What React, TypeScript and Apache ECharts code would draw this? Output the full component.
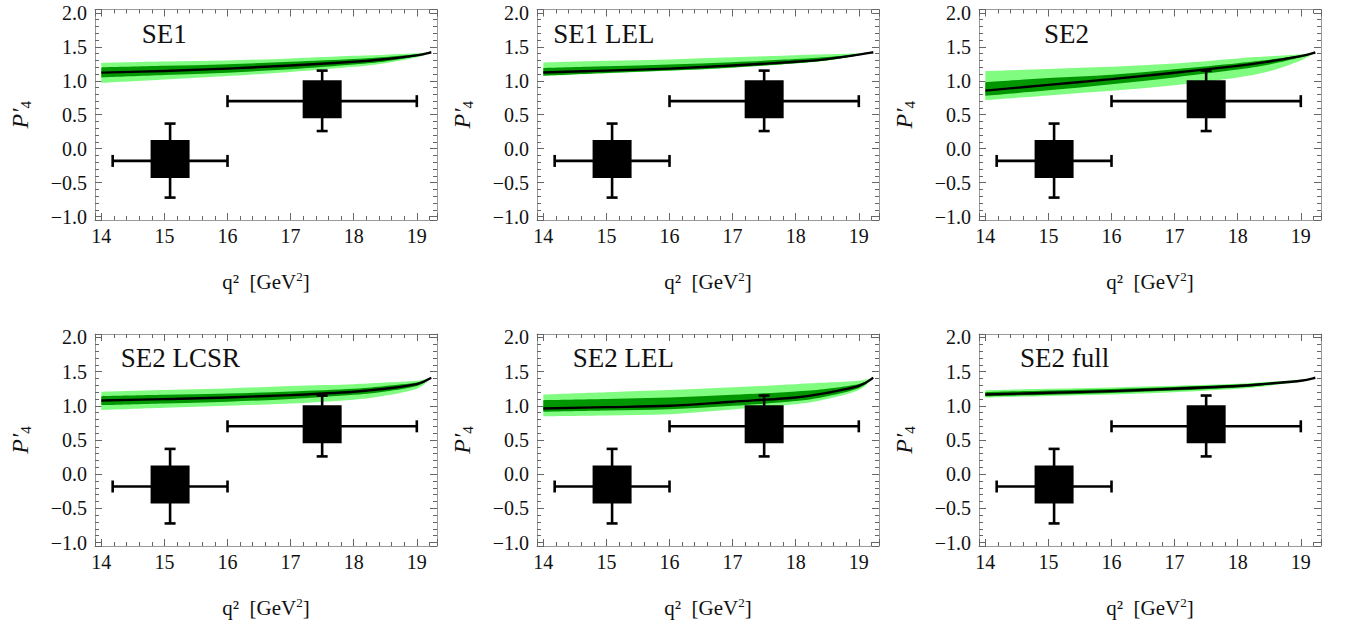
import React, { useEffect, useRef } from 'react';
import * as echarts from 'echarts';

// q^2 sample points of the theory curves
const Q = [14, 15, 16, 17, 18, 18.5, 19, 19.23];

// SE1
const SE1_C = [1.12, 1.145, 1.18, 1.225, 1.28, 1.32, 1.375, 1.42];
const SE1_LH = [1.265, 1.285, 1.3, 1.33, 1.368, 1.385, 1.405, 1.42];
const SE1_LL = [0.97, 1.02, 1.07, 1.13, 1.206, 1.26, 1.345, 1.42];
const SE1_DH = [1.197, 1.22, 1.245, 1.28, 1.32, 1.35, 1.39, 1.42];
const SE1_DL = [1.05, 1.085, 1.12, 1.17, 1.24, 1.285, 1.36, 1.42];
// SE1 LEL
const SE1LEL_C = [1.123, 1.15, 1.18, 1.225, 1.28, 1.32, 1.385, 1.42];
const SE1LEL_LH = [1.27, 1.295, 1.314, 1.345, 1.377, 1.39, 1.405, 1.42];
const SE1LEL_LL = [1.07, 1.11, 1.147, 1.19, 1.255, 1.3, 1.375, 1.42];
const SE1LEL_DH = [1.19, 1.215, 1.24, 1.275, 1.32, 1.35, 1.395, 1.42];
const SE1LEL_DL = [1.075, 1.115, 1.15, 1.195, 1.258, 1.302, 1.377, 1.42];
// SE2
const SE2_C = [0.855, 0.94, 1.025, 1.118, 1.22, 1.285, 1.363, 1.417];
const SE2_LH = [1.143, 1.175, 1.206, 1.255, 1.33, 1.36, 1.39, 1.417];
const SE2_LL = [0.716, 0.785, 0.853, 0.936, 1.05, 1.14, 1.3, 1.417];
const SE2_DH = [0.98, 1.04, 1.09, 1.17, 1.26, 1.31, 1.375, 1.417];
const SE2_DL = [0.78, 0.86, 0.95, 1.05, 1.165, 1.24, 1.345, 1.417];
// SE2 LCSR
const SE2LCSR_C = [1.078, 1.098, 1.122, 1.156, 1.205, 1.25, 1.317, 1.41];
const SE2LCSR_LH = [1.205, 1.23, 1.254, 1.29, 1.317, 1.34, 1.366, 1.41];
const SE2LCSR_LL = [0.937, 0.97, 1.0, 1.034, 1.09, 1.15, 1.25, 1.41];
const SE2LCSR_DH = [1.14, 1.16, 1.18, 1.21, 1.25, 1.29, 1.34, 1.41];
const SE2LCSR_DL = [1.01, 1.035, 1.06, 1.1, 1.16, 1.21, 1.29, 1.41];
// SE2 LEL
const SE2LEL_C = [0.961, 0.98, 1.0, 1.06, 1.122, 1.19, 1.29, 1.41];
const SE2LEL_LH = [1.166, 1.2, 1.23, 1.27, 1.317, 1.34, 1.366, 1.41];
const SE2LEL_LL = [0.849, 0.86, 0.878, 0.946, 1.024, 1.1, 1.23, 1.41];
const SE2LEL_DH = [1.083, 1.1, 1.12, 1.16, 1.21, 1.25, 1.32, 1.41];
const SE2LEL_DL = [0.912, 0.93, 0.95, 1.0, 1.07, 1.14, 1.26, 1.41];
// SE2 full
const SE2FULL_C = [1.166, 1.19, 1.215, 1.25, 1.29, 1.325, 1.366, 1.41];
const SE2FULL_LH = [1.228, 1.248, 1.268, 1.292, 1.322, 1.35, 1.38, 1.41];
const SE2FULL_LL = [1.12, 1.142, 1.165, 1.2, 1.25, 1.295, 1.35, 1.41];
const SE2FULL_DH = [1.2, 1.222, 1.245, 1.275, 1.31, 1.34, 1.374, 1.41];
const SE2FULL_DL = [1.14, 1.163, 1.188, 1.222, 1.268, 1.308, 1.358, 1.41];

// experimental bins
const EXP_Q = [15.09, 17.5];
const EXP_QLO = [14.18, 16];
const EXP_QHI = [16, 19];
const EXP_P = [-0.18, 0.7];
const EXP_PLO = [-0.72, 0.26];
const EXP_PHI = [0.37, 1.15];

const TITLES = ['SE1', 'SE1 LEL', 'SE2', 'SE2 LCSR', 'SE2 LEL', 'SE2 full'];

const PANELS = [
  { c: SE1_C, lh: SE1_LH, ll: SE1_LL, dh: SE1_DH, dl: SE1_DL },
  { c: SE1LEL_C, lh: SE1LEL_LH, ll: SE1LEL_LL, dh: SE1LEL_DH, dl: SE1LEL_DL },
  { c: SE2_C, lh: SE2_LH, ll: SE2_LL, dh: SE2_DH, dl: SE2_DL },
  { c: SE2LCSR_C, lh: SE2LCSR_LH, ll: SE2LCSR_LL, dh: SE2LCSR_DH, dl: SE2LCSR_DL },
  { c: SE2LEL_C, lh: SE2LEL_LH, ll: SE2LEL_LL, dh: SE2LEL_DH, dl: SE2LEL_DL },
  { c: SE2FULL_C, lh: SE2FULL_LH, ll: SE2FULL_LL, dh: SE2FULL_DH, dl: SE2FULL_DL },
];

const COL_LEFT = [95, 537, 979];
const GRID_W = 342;
const ROW_TOP = [9.5, 334];
const ROW_H = [210.5, 212];
const TITLE_X = [141.7, 553.3, 1044, 120.7, 572.7, 1020];

const SERIF = 'serif';
const LIGHT = '#80fc80';
const DARK = '#009600';
const FRAME = '#9a9a9a';
const TICK = '#666666';
const INK = '#111111';

const fmtY = (v: number) => {
  if (Math.abs(v * 2 - Math.round(v * 2)) > 1e-6) return '';
  return v.toFixed(1).replace('-', '\u2212');
};
const fmtX = (v: number) => {
  if (Math.abs(v - Math.round(v)) > 1e-6) return '';
  return String(Math.round(v));
};

// Catmull-Rom smoothing of already-projected pixel points into cubic Bezier segments
const curveSegs = (pts: number[][]) => {
  let d = '';
  const n = pts.length;
  for (let i = 0; i < n - 1; i++) {
    const p0 = pts[Math.max(i - 1, 0)];
    const p1 = pts[i];
    const p2 = pts[i + 1];
    const p3 = pts[Math.min(i + 2, n - 1)];
    const c1x = p1[0] + (p2[0] - p0[0]) / 6;
    const c1y = p1[1] + (p2[1] - p0[1]) / 6;
    const c2x = p2[0] - (p3[0] - p1[0]) / 6;
    const c2y = p2[1] - (p3[1] - p1[1]) / 6;
    d += ` C ${c1x} ${c1y} ${c2x} ${c2y} ${p2[0]} ${p2[1]}`;
  }
  return d;
};

export default function App() {
  const ref = useRef<HTMLDivElement>(null);
  useEffect(() => {
    const chart = echarts.init(ref.current!, null, { renderer: 'svg' });
    const grids: any[] = [];
    const xAxes: any[] = [];
    const yAxes: any[] = [];
    const series: any[] = [];
    const graphics: any[] = [];

    PANELS.forEach((p, i) => {
      const col = i % 3;
      const row = Math.floor(i / 3);
      grids.push({ left: COL_LEFT[col], top: ROW_TOP[row], width: GRID_W, height: ROW_H[row] });
      const common = {
        gridIndex: i,
        axisLine: { show: true, onZero: false, lineStyle: { color: FRAME, width: 1 } },
        axisTick: { show: true, inside: true, length: 7, lineStyle: { color: TICK, width: 1 } },
        minorTick: { show: true, splitNumber: 5, length: 4, lineStyle: { color: TICK, width: 1 } },
        splitLine: { show: false },
      };
      xAxes.push({
        ...common,
        type: 'value',
        position: 'bottom',
        min: 13.9,
        max: 19.32,
        axisLabel: {
          formatter: fmtX,
          fontFamily: SERIF,
          fontSize: 20,
          color: INK,
          margin: 6,
        },
        name: '{a|q\u00b2  [GeV}{b|2}{a|]}',
        nameLocation: 'middle',
        nameGap: 50,
        nameTextStyle: {
          rich: {
            a: { fontFamily: SERIF, fontSize: 21, color: INK, lineHeight: 24 },
            b: { fontFamily: SERIF, fontSize: 13, color: INK, verticalAlign: 'top', lineHeight: 24 },
          },
        },
      });
      xAxes.push({
        ...common,
        type: 'value',
        position: 'top',
        min: 13.9,
        max: 19.32,
        axisLabel: { show: false },
      });
      yAxes.push({
        ...common,
        type: 'value',
        position: 'left',
        min: -1.05,
        max: 2.05,
        splitNumber: 6,
        axisLabel: {
          formatter: fmtY,
          fontFamily: SERIF,
          fontSize: 20,
          color: INK,
          margin: 8,
        },
        name: '{p|P\u2032}{s|4}',
        nameLocation: 'middle',
        nameRotate: 90,
        nameGap: 62,
        nameTextStyle: {
          rich: {
            p: { fontFamily: SERIF, fontStyle: 'italic', fontSize: 24, color: INK, lineHeight: 26 },
            s: { fontFamily: SERIF, fontSize: 15, color: INK, verticalAlign: 'bottom', lineHeight: 26 },
          },
        },
      });
      yAxes.push({
        ...common,
        type: 'value',
        position: 'right',
        min: -1.05,
        max: 2.05,
        splitNumber: 6,
        axisLabel: { show: false },
      });

      const xi = 2 * i;
      const yi = 2 * i;

      const band = (hi: number[], lo: number[], color: string) => ({
        type: 'custom',
        xAxisIndex: xi,
        yAxisIndex: yi,
        silent: true,
        data: [[Q[0], hi[0]]],
        renderItem: (params: any, api: any) => {
          const U = Q.map((q, k) => api.coord([q, hi[k]]));
          const L = Q.map((q, k) => api.coord([q, lo[k]])).reverse();
          const d =
            `M ${U[0][0]} ${U[0][1]}` + curveSegs(U) + ` L ${L[0][0]} ${L[0][1]}` + curveSegs(L) + ' Z';
          return { type: 'path', shape: { pathData: d }, style: { fill: color, stroke: 'none' } };
        },
      });

      series.push(band(p.lh, p.ll, LIGHT));
      series.push(band(p.dh, p.dl, DARK));
      series.push({
        type: 'custom',
        xAxisIndex: xi,
        yAxisIndex: yi,
        silent: true,
        data: [[Q[0], p.c[0]]],
        renderItem: (params: any, api: any) => {
          const C = Q.map((q, k) => api.coord([q, p.c[k]]));
          const d = `M ${C[0][0]} ${C[0][1]}` + curveSegs(C);
          return {
            type: 'path',
            shape: { pathData: d },
            style: { fill: 'none', stroke: '#000', lineWidth: 2.4 },
          };
        },
      });
      series.push({
        type: 'custom',
        xAxisIndex: xi,
        yAxisIndex: yi,
        silent: true,
        data: EXP_Q.map((q, k) => [q, EXP_P[k], EXP_QLO[k], EXP_QHI[k], EXP_PLO[k], EXP_PHI[k]]),
        renderItem: (params: any, api: any) => {
          const x = api.value(0);
          const y = api.value(1);
          const c = api.coord([x, y]);
          const l = api.coord([api.value(2), y]);
          const r = api.coord([api.value(3), y]);
          const b = api.coord([x, api.value(4)]);
          const t = api.coord([x, api.value(5)]);
          const ls = { stroke: '#000', lineWidth: 2.6 };
          return {
            type: 'group',
            children: [
              { type: 'line', shape: { x1: l[0], y1: c[1], x2: r[0], y2: c[1] }, style: ls },
              { type: 'line', shape: { x1: l[0], y1: c[1] - 6, x2: l[0], y2: c[1] + 6 }, style: ls },
              { type: 'line', shape: { x1: r[0], y1: c[1] - 6, x2: r[0], y2: c[1] + 6 }, style: ls },
              { type: 'line', shape: { x1: c[0], y1: t[1], x2: c[0], y2: b[1] }, style: ls },
              { type: 'line', shape: { x1: c[0] - 5.5, y1: t[1], x2: c[0] + 5.5, y2: t[1] }, style: ls },
              { type: 'line', shape: { x1: c[0] - 5.5, y1: b[1], x2: c[0] + 5.5, y2: b[1] }, style: ls },
              { type: 'rect', shape: { x: c[0] - 19.5, y: c[1] - 21, width: 39, height: 38 }, style: { fill: '#000' } },
            ],
          };
        },
      });

      graphics.push({
        type: 'text',
        x: TITLE_X[i],
        y: ROW_TOP[row] + 24.3,
        silent: true,
        style: {
          text: TITLES[i],
          font: '27px serif',
          fill: INK,
          align: 'left',
          verticalAlign: 'middle',
          textAlign: 'left',
          textVerticalAlign: 'middle',
        },
      });
    });

    chart.setOption({
      animation: false,
      backgroundColor: '#ffffff',
      textStyle: { fontFamily: SERIF },
      grid: grids,
      xAxis: xAxes,
      yAxis: yAxes,
      series,
      graphic: graphics,
    });
    return () => chart.dispose();
  }, []);
  return (
    <div
      ref={ref}
      style={{ position: 'absolute', left: 0, top: 0, width: 1346, height: 626, background: '#fff' }}
    />
  );
}
